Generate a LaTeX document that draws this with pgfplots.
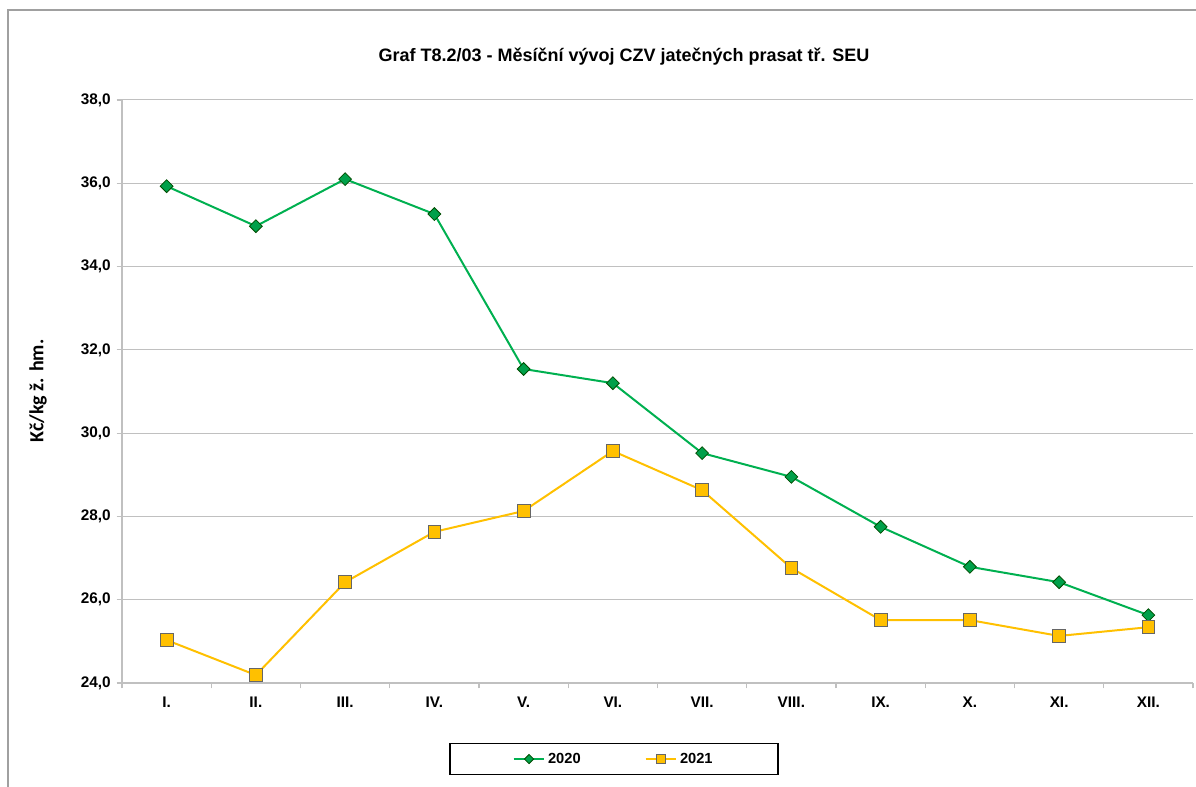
\documentclass[border=0pt]{standalone}
\usepackage{pgfplots}
\pgfplotsset{compat=1.18}
\usepackage{fontspec}
\setmainfont{Liberation Sans}
\newfontfamily\calib{Carlito}
\definecolor{grn}{HTML}{00B050}
\definecolor{grnm}{HTML}{00A04A}
\definecolor{yel}{HTML}{FFC000}
\definecolor{gridc}{HTML}{C0C0C0}
\definecolor{framec}{HTML}{A0A0A0}
\begin{document}
\begin{tikzpicture}
\useasboundingbox (-91.5pt,-78pt) rectangle (805.5pt,512.25pt);
\draw[framec, line width=1.2pt] (-85.5pt,-90pt) -- (-85.5pt,504.75pt) -- (820pt,504.75pt);
\begin{axis}[
  at={(0pt,0pt)}, anchor=south west,
  scale only axis, width=803.25pt, height=437.25pt,
  xmin=0.5, xmax=12.5, ymin=24, ymax=38,
  xtick={1,...,12},
  xticklabels={I.,II.,III.,IV.,V.,VI.,VII.,VIII.,IX.,X.,XI.,XII.},
  minor xtick={0.5,1.5,...,12.5},
  ytick={24,26,...,38},
  axis x line*=bottom, axis y line*=left,
  axis line style={gridc, line width=0.9pt, -},
  tick align=outside,
  major tick length=4pt, minor tick length=4pt,
  tick style={gridc, line width=0.9pt},
  xtick style={draw=none},
  minor x tick style={draw=gridc, line width=0.9pt},
  ymajorgrids, grid style={gridc, line width=0.75pt},
  ticklabel style={font=\bfseries\fontsize{11.5pt}{13pt}\selectfont},
  /pgf/number format/.cd, fixed, fixed zerofill, precision=1, use comma, assume math mode=true,
  /pgfplots/.cd,
  yticklabel style={xshift=-1pt},
  xticklabel style={yshift=-3pt},
  legend style={at={(0.4594,-0.1304)}, anchor=center, draw=black, line width=1pt,
    font=\bfseries\fontsize{11pt}{12pt}\selectfont, inner xsep=47pt, inner ysep=5pt,
    /tikz/every even column/.append style={column sep=46pt}},
  legend columns=2,
  legend image code/.code={\draw[#1, mark repeat=2, mark phase=2, every mark/.append style={scale=0.72}] plot coordinates {(0pt,0pt) (11.5pt,0pt) (23pt,0pt)};},
]
\addplot[grn, line width=1.5pt, mark=square*, mark size=3.4pt,
  mark options={rotate=45, fill=grnm, draw=black!70!green, line width=0.6pt}]
  coordinates {(1,35.93)(2,34.97)(3,36.10)(4,35.26)(5,31.54)(6,31.20)(7,29.52)(8,28.95)(9,27.75)(10,26.79)(11,26.42)(12,25.63)};
\addlegendentry{2020}
\addplot[yel, line width=1.5pt, mark=square*, mark size=4.8pt,
  mark options={fill=yel, draw=black!60, line width=0.6pt}]
  coordinates {(1,25.03)(2,24.19)(3,26.42)(4,27.63)(5,28.13)(6,29.57)(7,28.63)(8,26.76)(9,25.51)(10,25.51)(11,25.13)(12,25.34)};
\addlegendentry{2021}
\end{axis}
\node[font=\bfseries\fontsize{13.5pt}{15pt}\selectfont] at (376.5pt,469.5pt) {Graf T8.2/03 - Měsíční vývoj CZV jatečných prasat tř. SEU};
\node[font=\calib\bfseries\fontsize{15pt}{17pt}\selectfont, rotate=90] at (-63pt,219pt) {Kč/kg ž. hm.};
\end{tikzpicture}
\end{document}
